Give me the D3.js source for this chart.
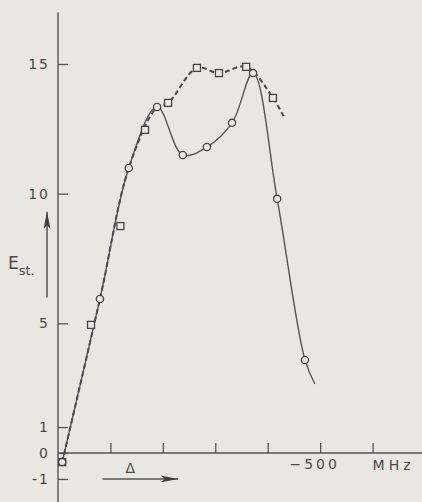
<!DOCTYPE html>
<html>
<head>
<meta charset="utf-8">
<script src="https://cdn.jsdelivr.net/npm/d3@7"></script>
<style>
  html, body { margin: 0; padding: 0; background: #e9e7e1; }
  svg { display: block; }
  text { font-family: "DejaVu Sans", "Liberation Sans", sans-serif; fill: #4a4a4a; }
</style>
</head>
<body>
<script>
// Detuning Δ (MHz) and measured E_st for the two runs
const circleDelta = [-8, -80, -135, -189, -238, -284, -332, -372, -418, -471];
const circleE     = [-0.35, 5.94, 10.99, 13.34, 11.49, 11.8, 12.73, 14.65, 9.8, 3.59];
const solidTail   = [-490, 2.66];   // where the solid curve stops

const squareDelta = [-8, -63, -119, -166, -210, -265, -307, -359, -410];
const squareE     = [-0.35, 4.94, 8.75, 12.46, 13.5, 14.85, 14.65, 14.89, 13.69];
const dashedTail  = [-431, 12.96];  // where the dashed curve stops
const sharedUntil = -189;           // both curves follow the same rise up to here

const yTicks = [-1, 0, 1, 5, 10, 15];
const yTickLabels = ["-1", "0", "1", "5", "10", "15"];
const xTicks = [-100, -200, -300, -400, -500, -600];
const xTickLabels = { "-500": "\u2212500" };
const xUnit = "MHz";

const W = 422, H = 502;
const ink = "#555";

const svg = d3.select("body").append("svg").attr("width", W).attr("height", H);

const x = d3.scaleLinear().domain([0, -700]).range([58, 425]);
const y = d3.scaleLinear().domain([0, 15]).range([453, 64]);

// Axis lines
svg.append("line")
  .attr("x1", x(0)).attr("x2", x(0))
  .attr("y1", y(17)).attr("y2", y(-1.95))
  .attr("stroke", ink).attr("stroke-width", 1.4);
svg.append("line")
  .attr("x1", x(0)).attr("x2", x(-700))
  .attr("y1", y(0)).attr("y2", y(0))
  .attr("stroke", ink).attr("stroke-width", 1.4);

// Y axis ticks (pointing into the plot), labels to the left
const yAxis = d3.axisLeft(y).tickValues(yTicks)
  .tickSize(-10).tickPadding(8)
  .tickFormat((d, i) => yTickLabels[i]);
const gy = svg.append("g").attr("transform", `translate(${x(0)},0)`).call(yAxis);
gy.select(".domain").remove();
gy.selectAll(".tick line").attr("stroke", ink).attr("stroke-width", 1.3);
gy.selectAll(".tick text")
  .style("font-size", "14px").style("letter-spacing", "2px")
  .attr("fill", "#4a4a4a");

// X axis ticks (pointing up), only −500 labelled
const xAxis = d3.axisBottom(x).tickValues(xTicks)
  .tickSize(-10).tickPadding(6)
  .tickFormat(d => xTickLabels[String(d)] || "");
const gx = svg.append("g").attr("transform", `translate(0,${y(0)})`).call(xAxis);
gx.select(".domain").remove();
gx.selectAll(".tick line").attr("stroke", ink).attr("stroke-width", 1.3);
gx.selectAll(".tick text")
  .style("font-size", "14px").style("letter-spacing", "3px")
  .attr("text-anchor", "middle").attr("dx", "-6")
  .attr("fill", "#4a4a4a");

// Unit label at the last tick
svg.append("text")
  .attr("x", x(-600)).attr("y", y(0) + 17)
  .style("font-size", "14px").style("letter-spacing", "4px")
  .text(xUnit);

// Δ with arrow
svg.append("text")
  .attr("x", x(-138)).attr("y", y(0) + 20)
  .attr("text-anchor", "middle")
  .style("font-size", "14px")
  .text("\u0394");

const defs = svg.append("defs");

// Δ arrow head
defs.append("marker")
  .attr("id", "arrowHeadX").attr("viewBox", "0 0 20 8")
  .attr("refX", 20).attr("refY", 4)
  .attr("markerWidth", 20).attr("markerHeight", 7)
  .attr("markerUnits", "userSpaceOnUse")
  .attr("orient", "auto")
  .append("path").attr("d", "M0,0 L20,4 L0,8 L5,4 Z").attr("fill", "#3e3e3e");

svg.append("line")
  .attr("x1", x(-85)).attr("x2", x(-229))
  .attr("y1", y(-1)).attr("y2", y(-1))
  .attr("stroke", ink).attr("stroke-width", 1.4)
  .attr("marker-end", "url(#arrowHeadX)");

// E_st label with upward arrow
defs.append("marker")
  .attr("id", "arrowHeadY").attr("viewBox", "0 0 8 20")
  .attr("refX", 4).attr("refY", 0)
  .attr("markerWidth", 7).attr("markerHeight", 20)
  .attr("markerUnits", "userSpaceOnUse")
  .attr("orient", "0")
  .append("path").attr("d", "M4,0 L8,20 L4,15 L0,20 Z").attr("fill", "#3e3e3e");

svg.append("line")
  .attr("x1", 47).attr("x2", 47)
  .attr("y1", y(6)).attr("y2", y(9.3))
  .attr("stroke", ink).attr("stroke-width", 1.5)
  .attr("marker-end", "url(#arrowHeadY)");

const eLab = svg.append("text").attr("x", 8).attr("y", y(7.1));
eLab.append("tspan").style("font-size", "17px").text("E");
eLab.append("tspan").attr("dy", 6).style("font-size", "13px").text("st.");

// Curves
const line = d3.line().x(d => x(d[0])).y(d => y(d[1])).curve(d3.curveCatmullRom.alpha(0.5));

const circlePts = circleDelta.map((d, i) => [d, circleE[i]]);
const squarePts = squareDelta.map((d, i) => [d, squareE[i]]);

const solidPts = circlePts.concat([solidTail]);
const dashedPts = circlePts.filter(p => p[0] >= sharedUntil)
  .concat(squarePts.filter(p => p[0] < sharedUntil))
  .concat([dashedTail]);

svg.append("path").datum(solidPts)
  .attr("d", line).attr("fill", "none")
  .attr("stroke", ink).attr("stroke-width", 1.4);

svg.append("path").datum(dashedPts)
  .attr("d", line).attr("fill", "none")
  .attr("stroke", "#4a4a4a").attr("stroke-width", 2)
  .attr("stroke-dasharray", "5,3");

// Markers
svg.selectAll("rect.sq").data(squareDelta).enter().append("rect")
  .attr("class", "sq")
  .attr("x", d => x(d) - 3.5).attr("y", (d, i) => y(squareE[i]) - 3.5)
  .attr("width", 7).attr("height", 7)
  .attr("fill", "#eceae4").attr("stroke", "#444").attr("stroke-width", 1.3);

svg.selectAll("circle.pt").data(circleDelta).enter().append("circle")
  .attr("class", "pt")
  .attr("cx", d => x(d)).attr("cy", (d, i) => y(circleE[i]))
  .attr("r", 3.6)
  .attr("fill", "#eceae4").attr("stroke", "#444").attr("stroke-width", 1.3);
</script>
</body>
</html>
